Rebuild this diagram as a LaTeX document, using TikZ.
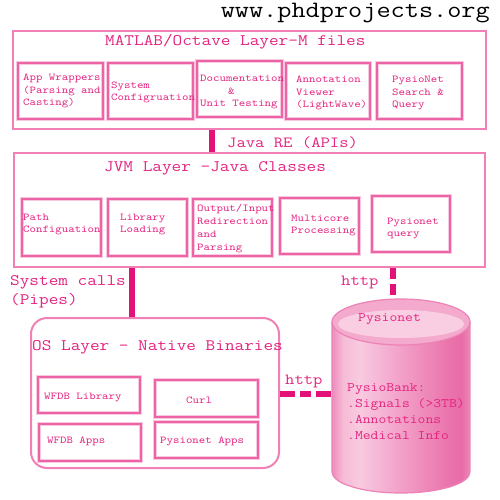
\documentclass[tikz,border=0pt]{standalone}
\usepackage{fontspec}
\setmainfont[FakeStretch=1.17]{Latin Modern Mono}
\usetikzlibrary{calc}
\definecolor{txtc}{RGB}{228,36,128}
\definecolor{boxc}{RGB}{240,128,182}
\definecolor{ibc}{RGB}{236,100,165}
\definecolor{conc}{RGB}{226,18,120}
\definecolor{cylA}{RGB}{238,140,190}
\definecolor{cylB}{RGB}{246,188,214}
\definecolor{cylC}{RGB}{248,202,224}
\definecolor{cylD}{RGB}{242,160,200}
\definecolor{cylE}{RGB}{234,116,172}
\definecolor{cylF}{RGB}{232,108,168}
\definecolor{cylG}{RGB}{236,138,184}
\definecolor{cyltop}{RGB}{243,170,204}
\definecolor{cyltopin}{RGB}{249,206,226}
\definecolor{cyledge}{RGB}{236,130,182}
\pgfdeclarehorizontalshading{cylbody}{100bp}{color(0bp)=(cylA); color(25bp)=(cylA); color(29bp)=(cylB); color(35bp)=(cylC); color(50bp)=(cylD); color(67bp)=(cylE); color(72bp)=(cylF); color(75bp)=(cylG); color(100bp)=(cylG)}
\begin{document}
\begin{tikzpicture}[x=1pt,y=-1pt,
  outer/.style={draw=boxc, line width=2pt, inner sep=0pt, fill=white},
  ibox/.style={draw=ibc, line width=1.6pt, inner sep=0pt, preaction={draw=ibc!35, line width=3.6pt}},
  itext/.style={anchor=west, inner sep=0pt, align=left, text=txtc, font=\fontsize{10.5}{12.8}\selectfont},
  head/.style={anchor=west, inner sep=0pt, text=txtc, font=\fontsize{16}{19}\selectfont},
  cyltext/.style={anchor=west, inner sep=0pt, align=left, text=txtc, font=\fontsize{13}{16}\selectfont},
  conn/.style={draw=conc, line width=6pt},
  dconn/.style={draw=conc, line width=6pt, dash pattern=on 11pt off 5pt}]
\useasboundingbox (0,0) rectangle (500,500);
\fill[white] (0,0) rectangle (500,500);

% title
\node[anchor=east, inner sep=0pt, font=\fontsize{23.5}{26}\selectfont] (title) at (490,13) {www.phdprojects.org};

% top layer
\node[outer, minimum width=473pt, minimum height=98pt] (tb) at (249.5,80) {};
\node[head] (tbh) at (105,42) {MATLAB/Octave Layer-M files};
\node[ibox, minimum width=85pt, minimum height=56pt] (a1) at (60.5,91) {};
\node[ibox, minimum width=85pt, minimum height=56pt] (a2) at (150.5,91) {};
\node[ibox, minimum width=85pt, minimum height=56pt] (a3) at (239.5,89) {};
\node[ibox, minimum width=84pt, minimum height=56pt] (a4) at (328,91) {};
\node[ibox, minimum width=85pt, minimum height=56pt] (a5) at (419.5,91) {};
\node[itext] (a1t) at (23,91) {App Wrappers\\(Parsing and\\Casting)};
\node[itext] (a2t) at (111,92.5) {System\\Configruation};
\node[itext] (a3t) at (200,92) {Documentation\\\hspace*{28pt}\&\\Unit Testing};
\node[itext] (a4t) at (296,93) {Annotation\\Viewer\\(LightWave)};
\node[itext] (a5t) at (392,93) {PysioNet\\Search \&\\Query};

% JVM layer
\node[outer, minimum width=471pt, minimum height=114pt] (jvm) at (249.5,210) {};
\node[head] (jvmh) at (104,168) {JVM Layer -Java Classes};
\node[ibox, minimum width=79pt, minimum height=57pt] (j1) at (61.5,227.5) {};
\node[ibox, minimum width=79pt, minimum height=57pt] (j2) at (147.5,227.5) {};
\node[ibox, minimum width=79pt, minimum height=57pt] (j3) at (232.5,227.5) {};
\node[ibox, minimum width=79pt, minimum height=56pt] (j4) at (319.5,226) {};
\node[ibox, minimum width=78pt, minimum height=56pt] (j5) at (411,224) {};
\node[itext] (j1t) at (23,224.5) {Path\\Configuation};
\node[itext] (j2t) at (120,224.5) {Library\\Loading};
\node[itext] (j3t) at (197,228.5) {Output/Input\\Redirection\\and\\Parsing};
\node[itext] (j4t) at (291,225.5) {Multicore\\Processing};
\node[itext] (j5t) at (387,228.5) {Pysionet\\query};

% OS layer
\node[outer, rounded corners=16pt, minimum width=248pt, minimum height=150pt] (os) at (155,393) {};
\node[head] (osh) at (32,347) {OS Layer - Native Binaries};
\node[ibox, minimum width=102pt, minimum height=36pt] (o1) at (89,395) {};
\node[ibox, minimum width=103pt, minimum height=37pt] (o2) at (206.5,398.5) {};
\node[ibox, minimum width=102pt, minimum height=37pt] (o3) at (90,442.5) {};
\node[ibox, minimum width=103pt, minimum height=36pt] (o4) at (206.5,440) {};
\node[itext] (o1t) at (44,397) {WFDB Library};
\node[itext] (o2t) at (186,400) {Curl};
\node[itext] (o3t) at (47,441) {WFDB Apps};
\node[itext] (o4t) at (160,441) {Pysionet Apps};

% database cylinder
\node[inner sep=0pt, outer sep=0pt, minimum width=138pt, minimum height=193pt] (db) at (401,396.5) {};
\path[shading=cylbody] (332,322) -- (332,472) arc[start angle=180, end angle=360, x radius=69pt, y radius=21pt] -- (470,322) -- cycle;
\draw[cyledge, line width=1.2pt] (332,322) -- (332,472) arc[start angle=180, end angle=360, x radius=69pt, y radius=21pt] -- (470,322);
\draw[cyledge, line width=1.2pt, fill=cyltop] (401,322) ellipse [x radius=69pt, y radius=23pt];
\fill[cyltopin] (401,324) ellipse [x radius=63pt, y radius=14pt];
\node[cyltext] (dbh) at (358,319) {Pysionet};
\node[cyltext] (dbt) at (347,412) {PysioBank:\\.Signals (>3TB)\\.Annotations\\.Medical Info};

% connectors
\coordinate (k1) at (212,0);
\draw[conn] (tb.south -| k1) -- (jvm.north -| k1);
\coordinate (k2) at (132,0);
\draw[conn] (jvm.south -| k2) -- (os.north -| k2);
\coordinate (k3) at (393,0);
\draw[dconn] (jvm.south -| k3) -- ($(db.north -| k3)+(0,-4)$);
\coordinate (k4) at (0,394);
\draw[dconn, dash pattern=on 15pt off 5pt on 11pt off 5pt] (os.east |- k4) -- (db.west |- k4);

% connector labels
\node[head, font=\fontsize{15.5}{18}\selectfont] (jre) at (227,143) {Java RE (APIs)};
\node[head, align=left, font=\fontsize{16}{19}\selectfont] (sysc) at (10,292) {System calls\\(Pipes)};
\node[head, font=\fontsize{15.5}{18}\selectfont] (http1) at (341,282) {http};
\node[head, font=\fontsize{15.5}{18}\selectfont] (http2) at (285,381) {http};
\end{tikzpicture}
\end{document}
